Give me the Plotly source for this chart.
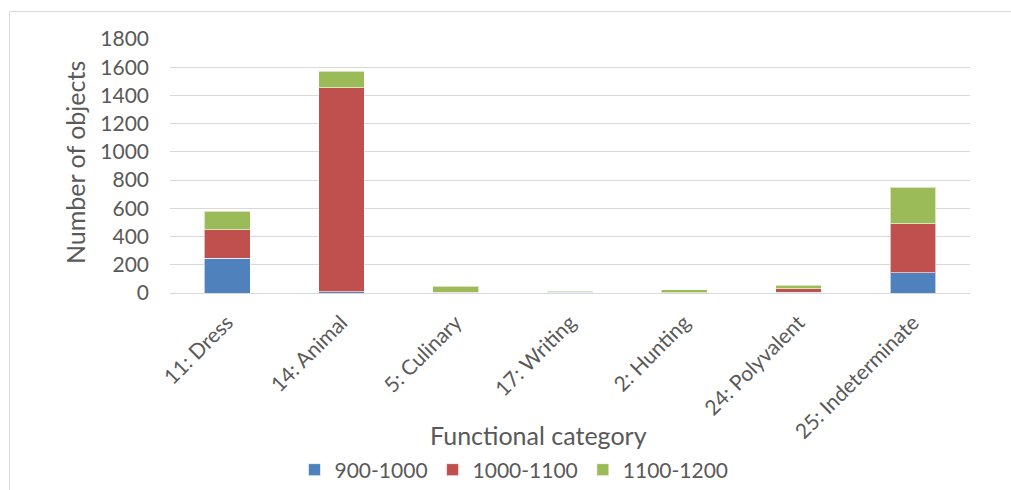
import plotly.graph_objects as go

# Functional categories and object counts per date range
categories = ["11: Dress", "14: Animal", "5: Culinary", "17: Writing",
              "2: Hunting", "24: Polyvalent", "25: Indeterminate"]
series_names = ["900-1000", "1000-1100", "1100-1200"]
counts_900_1000 = [245, 10, 0, 4, 0, 5, 145]
counts_1000_1100 = [202, 1445, 5, 4, 2, 25, 345]
counts_1100_1200 = [133, 115, 43, 4, 21, 24, 258]
y_ticks = [0, 200, 400, 600, 800, 1000, 1200, 1400, 1600, 1800]

colors = ["#4f81bd", "#c0504d", "#9bbb59"]
text_color = "#595959"
grid_color = "#d9d9d9"
font_family = "Lato, 'Open Sans', sans-serif"

W, H = 1011, 490
L, R, T, B = 170, 41, 39, 197
plot_w = W - L - R
plot_h = H - T - B


def px_x(px):
    return (px - L) / plot_w


def px_y(py):
    return (H - B - py) / plot_h


fig = go.Figure()
for name, vals, col in zip(series_names,
                           [counts_900_1000, counts_1000_1100, counts_1100_1200],
                           colors):
    fig.add_trace(go.Bar(
        x=categories, y=vals, name=name,
        marker=dict(color=col, line=dict(color="rgba(255,255,255,0.6)", width=1)),
    ))

fig.update_layout(
    width=W, height=H,
    margin=dict(l=L, r=R, t=T, b=B, autoexpand=False),
    barmode="stack",
    bargap=0.6,
    paper_bgcolor="white",
    plot_bgcolor="white",
    font=dict(family=font_family, color=text_color, size=21),
    xaxis=dict(
        automargin=False,
        tickangle=-45,
        showgrid=False,
        showline=True, linecolor=grid_color, linewidth=1,
        ticks="",
        ticklabelstandoff=8,
        tickfont=dict(size=21, color=text_color),
    ),
    yaxis=dict(
        automargin=False,
        range=[0, 1800],
        tickvals=y_ticks,
        showgrid=True, gridcolor=grid_color, gridwidth=1,
        zeroline=False,
        ticks="",
        ticklabelstandoff=20,
        tickfont=dict(size=21, color=text_color),
    ),
    legend=dict(
        orientation="h",
        x=px_x(514), xanchor="center",
        y=px_y(470), yanchor="middle",
        font=dict(size=21, color=text_color),
        traceorder="normal",
        itemwidth=30,
    ),
    annotations=[
        dict(text="Functional category", xref="paper", yref="paper",
             x=px_x(538), y=px_y(435), xanchor="center", yanchor="middle",
             showarrow=False, font=dict(size=25, color=text_color)),
        dict(text="Number of objects", xref="paper", yref="paper",
             x=px_x(75), y=px_y(163), xanchor="center", yanchor="middle",
             textangle=-90,
             showarrow=False, font=dict(size=25, color=text_color)),
    ],
    shapes=[
        dict(type="rect", xref="paper", yref="paper",
             x0=px_x(9.5), y0=px_y(510), x1=px_x(1030), y1=px_y(11.5),
             line=dict(color=grid_color, width=1), fillcolor="rgba(0,0,0,0)",
             layer="below"),
    ],
)

fig.write_html("out.html")
